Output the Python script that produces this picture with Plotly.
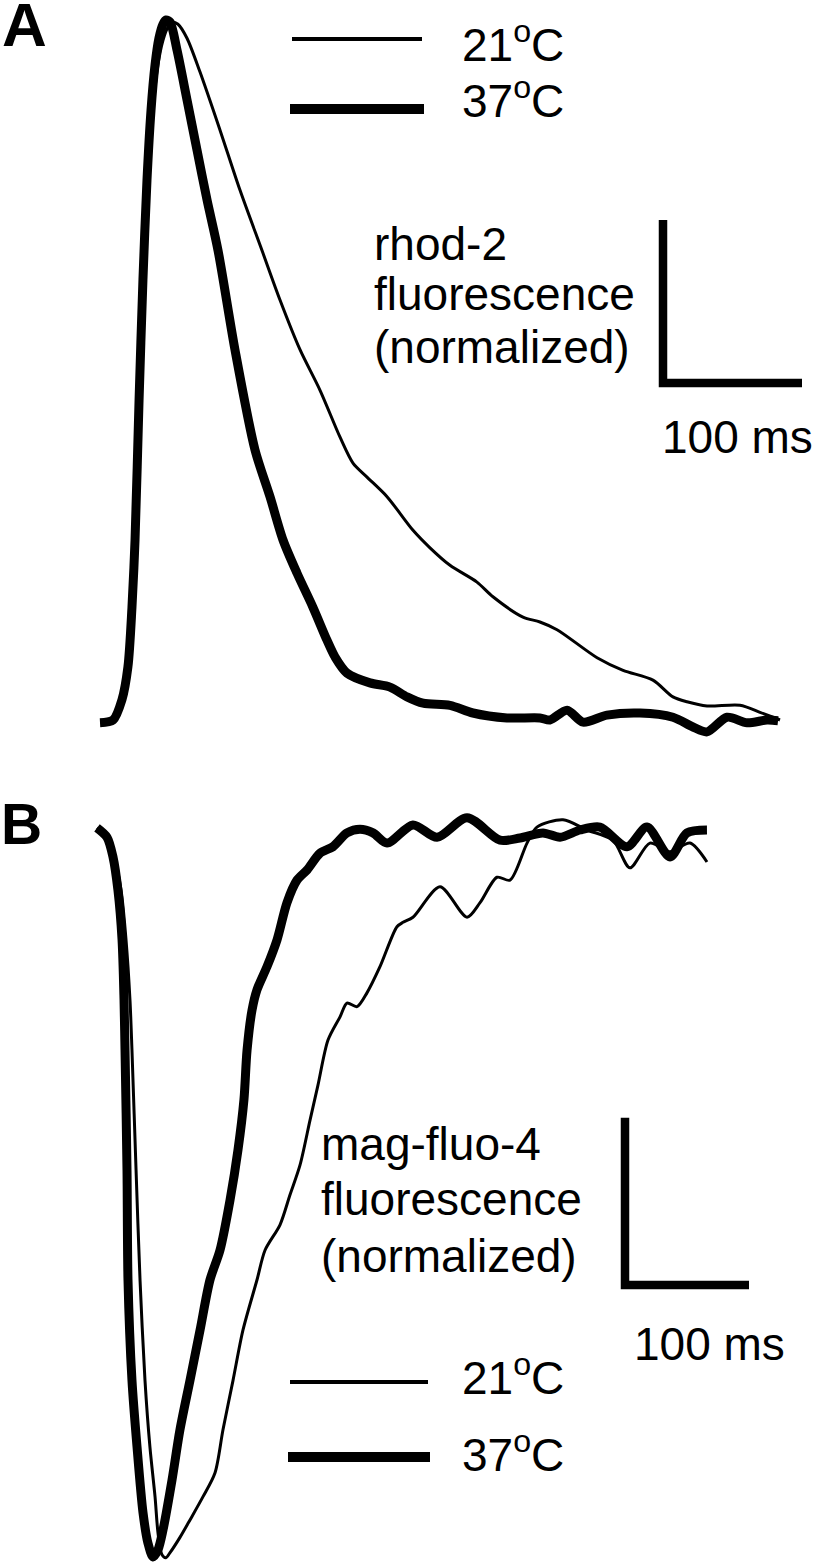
import plotly.graph_objects as go

W, H = 813, 1562

# ---------------- data (time in ms, fluorescence normalized) ----------------
# Panel A: rhod-2, 21 oC (thin)
a_t_21 = [0, 10.8, 17.3, 21.6, 24.5, 26.6, 29.5, 32.4, 35.3, 38.1, 41.7, 45.3, 48.9, 51.8, 56.1,
          62.6, 71.9, 86.3, 100.7, 116.5, 129.5, 143.9, 158.3, 172.7, 182.0, 192.1, 206.5,
          225.2, 237.4, 251.8, 271.2, 282.7, 304.3, 316.5, 328.8, 357.6, 376.3, 397.8,
          412.2, 422.3, 436.7, 460.4, 474.8, 484.2, 489.2]
a_f_21 = [-0.003, 0.001, 0.029, 0.076, 0.161, 0.257, 0.457, 0.629, 0.771, 0.871, 0.936, 0.971,
          0.990, 0.997, 0.994, 0.974, 0.926, 0.843, 0.757, 0.671, 0.600, 0.529, 0.471, 0.404,
          0.367, 0.347, 0.319, 0.271, 0.246, 0.221, 0.197, 0.176, 0.147, 0.140, 0.129, 0.089,
          0.071, 0.057, 0.033, 0.026, 0.020, 0.021, 0.011, 0.004, 0.0]
# Panel A: rhod-2, 37 oC (thick)
a_t_37 = [0, 9.4, 15.8, 20.1, 23.0, 25.2, 28.1, 30.9, 33.8, 36.7, 39.6, 42.4, 45.3, 47.5, 50.4,
          55.4, 62.6, 69.8, 77.0, 84.9, 97.1, 111.5, 122.3, 131.7, 141.7, 153.2, 163.3,
          169.1, 177.7, 194.2, 208.6, 220.9, 232.4, 251.8, 268.3, 292.8, 316.5, 323.7,
          336.0, 347.5, 364.7, 388.5, 412.2, 426.6, 436.7, 451.1, 465.5, 479.9, 487.8]
a_f_37 = [-0.004, 0.0, 0.029, 0.076, 0.161, 0.257, 0.457, 0.629, 0.771, 0.871, 0.936, 0.974,
          0.994, 1.0, 0.997, 0.957, 0.886, 0.814, 0.743, 0.671, 0.529, 0.386, 0.319, 0.257,
          0.210, 0.161, 0.114, 0.090, 0.067, 0.053, 0.047, 0.033, 0.024, 0.021, 0.010, 0.003,
          0.003, 0.0, 0.014, -0.003, 0.007, 0.010, 0.004, -0.010, -0.017, 0.004, -0.004, 0.0,
          -0.001]

# Panel B: mag-fluo-4, 21 oC (thin)
b_t_21 = [0, 8.1, 14.5, 19.4, 23.4, 26.6, 28.2, 31.5, 34.7, 38.7, 42.7, 46.8, 49.2, 52.4,
          55.6, 58.9, 66.9, 75.0, 85.5, 95.2, 101.6, 109.7, 117.7, 129.0, 135.5, 147.6,
          155.6, 163.7, 171.8, 178.2, 186.3, 196.0, 201.6, 209.7, 217.7, 228.2, 241.9,
          246.8, 254.8, 276.6, 298.4, 308.9, 322.6, 333.1, 346.8, 354.8, 375.8, 395.2,
          416.1, 429.8, 445.9, 462.1, 478.2, 491.9]
b_f_21 = [0.003, -0.010, -0.041, -0.083, -0.151, -0.234, -0.303, -0.468, -0.619, -0.757,
          -0.849, -0.917, -0.967, -0.997, -1.001, -0.994, -0.973, -0.949, -0.917, -0.884,
          -0.825, -0.757, -0.688, -0.619, -0.578, -0.543, -0.502, -0.461, -0.399, -0.351,
          -0.289, -0.257, -0.238, -0.243, -0.224, -0.188, -0.133, -0.127, -0.120, -0.078,
          -0.120, -0.100, -0.065, -0.069, -0.018, 0.004, 0.014, 0.0, -0.014, -0.052,
          -0.018, -0.030, -0.018, -0.044]
# Panel B: mag-fluo-4, 37 oC (thick)
b_t_37 = [0, 8.1, 12.9, 16.9, 20.2, 21.8, 22.6, 24.2, 25.0, 28.2, 32.3, 37.1, 41.1, 45.2,
          49.2, 53.2, 60.5, 66.9, 75.0, 83.1, 91.1, 99.2, 107.3, 113.7, 118.5, 121.0, 125.0,
          129.0, 137.1, 145.2, 153.2, 161.3, 169.4, 179.8, 190.3, 201.6, 212.1, 222.6,
          233.9, 254.8, 274.2, 298.4, 325.0, 341.1, 359.7, 373.4, 389.5, 405.6, 427.4,
          443.5, 462.1, 475.8, 491.9]
b_f_37 = [0.003, -0.010, -0.037, -0.083, -0.151, -0.234, -0.303, -0.468, -0.619, -0.757,
          -0.849, -0.939, -0.981, -1.0, -0.990, -0.963, -0.894, -0.825, -0.757, -0.688,
          -0.619, -0.578, -0.509, -0.440, -0.371, -0.303, -0.248, -0.220, -0.188, -0.151,
          -0.100, -0.069, -0.055, -0.032, -0.023, -0.004, 0.001, -0.004, -0.018, 0.007,
          -0.010, 0.017, -0.014, -0.011, -0.004, -0.010, 0.0, 0.004, -0.023, 0.004,
          -0.037, -0.004, 0.0]

# scale bars: 100 ms horizontally, normalized amplitude vertically
scale_time_ms = 100
scale_amp_a = 0.233
scale_amp_b = 0.230

panel_labels = ["A", "B"]
legend_labels = ["21<sup>o</sup>C", "37<sup>o</sup>C"]
dye_labels_a = ["rhod-2", "fluorescence", "(normalized)"]
dye_labels_b = ["mag-fluo-4", "fluorescence", "(normalized)"]
scale_label = "100 ms"

# ---------------- layout geometry (pixels) ----------------
# panel A: t=0 at x=100px, 1.39 px/ms; F=0 at y=720px, 700 px/unit; rows 0..780
# panel B: t=0 at x=97px, 1.24 px/ms; F=0 at y=830px, 727 px/unit; rows 780..1562
geomA = dict(x0=100, pxms=1.39, y0=720, pxu=700, top=0, bot=780)
geomB = dict(x0=97, pxms=1.24, y0=830, pxu=727, top=780, bot=H)


def axis_setup(g):
    xr = [(0 - g["x0"]) / g["pxms"], (W - g["x0"]) / g["pxms"]]
    yr = [(g["y0"] - g["bot"]) / g["pxu"], (g["y0"] - g["top"]) / g["pxu"]]
    dom = [1 - g["bot"] / H, 1 - g["top"] / H]
    return xr, yr, dom


xrA, yrA, domA = axis_setup(geomA)
xrB, yrB, domB = axis_setup(geomB)

THIN, THICK, BAR = 3, 9, 8.5
FONT = "Liberation Sans, Arial, sans-serif"

fig = go.Figure()


def line(x, y, w, xa, ya):
    fig.add_trace(go.Scatter(x=x, y=y, mode="lines", xaxis=xa, yaxis=ya,
                             line=dict(color="black", width=w, shape="spline", smoothing=0.8),
                             hoverinfo="skip", showlegend=False))


line(a_t_21, a_f_21, THIN, "x", "y")
line(a_t_37, a_f_37, THICK, "x", "y")
line(b_t_21, b_f_21, THIN, "x2", "y2")
line(b_t_37, b_f_37, THICK, "x2", "y2")

# scale bars (corner positions in data units)
cornerA = ((663 - geomA["x0"]) / geomA["pxms"], (geomA["y0"] - 383) / geomA["pxu"])
cornerB = ((625 - geomB["x0"]) / geomB["pxms"], (geomB["y0"] - 1285) / geomB["pxu"])
for (cx, cy), amp, xa, ya in [(cornerA, scale_amp_a, "x", "y"), (cornerB, scale_amp_b, "x2", "y2")]:
    fig.add_trace(go.Scatter(x=[cx, cx, cx + scale_time_ms], y=[cy + amp, cy, cy],
                             mode="lines", xaxis=xa, yaxis=ya,
                             line=dict(color="black", width=BAR),
                             hoverinfo="skip", showlegend=False))


def px(xp):
    return xp / W


def py(yp):
    return 1 - yp / H


shapes = []
# legend line samples (pixel positions)
for (x1, x2, yy, w) in [(292, 422, 39, 4), (290, 424, 109, 10),
                        (290, 428, 1382, 4), (288, 430, 1457, 10)]:
    shapes.append(dict(type="line", xref="paper", yref="paper",
                       x0=px(x1), x1=px(x2), y0=py(yy), y1=py(yy),
                       line=dict(color="black", width=w)))

annotations = []


def text(s, xp, yc, size, bold=False):
    annotations.append(dict(text=("<b>%s</b>" % s) if bold else s, xref="paper", yref="paper",
                            x=px(xp), y=py(yc), xanchor="left", yanchor="middle",
                            showarrow=False, borderpad=0,
                            font=dict(family=FONT, size=size, color="black")))


text(panel_labels[0], 1, 24, 62, bold=True)
text(panel_labels[1], 0, 824, 57, bold=True)

text(legend_labels[0], 461, 42, 46)
text(legend_labels[1], 461, 98, 46)
text(legend_labels[0], 461, 1375, 46)
text(legend_labels[1], 461, 1452, 46)

for s, yc in zip(dye_labels_a, [244, 294, 347]):
    text(s, 373, yc, 46)
for s, yc in zip(dye_labels_b, [1144, 1199, 1256]):
    text(s, 320, yc, 46)

text(scale_label, 661, 437, 46)
text(scale_label, 633, 1344, 46)

ax_common = dict(visible=False, showgrid=False, zeroline=False, fixedrange=True)
fig.update_layout(
    width=W, height=H,
    margin=dict(l=0, r=0, t=0, b=0),
    paper_bgcolor="white", plot_bgcolor="white",
    showlegend=False,
    xaxis=dict(range=xrA, domain=[0, 1], anchor="y", **ax_common),
    yaxis=dict(range=yrA, domain=domA, anchor="x", **ax_common),
    xaxis2=dict(range=xrB, domain=[0, 1], anchor="y2", **ax_common),
    yaxis2=dict(range=yrB, domain=domB, anchor="x2", **ax_common),
    shapes=shapes,
    annotations=annotations,
)

fig.write_html("out.html", config={"displayModeBar": False},
               post_script="document.body.style.margin='0';document.body.style.overflow='hidden';")
